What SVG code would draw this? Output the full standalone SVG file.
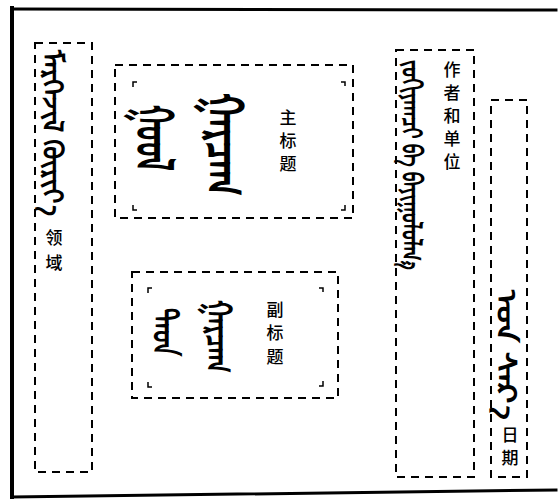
<svg xmlns="http://www.w3.org/2000/svg" width="558" height="503" viewBox="0 0 558 503">
<style>
.frame{fill:none;stroke:#000;stroke-linecap:square}
.box{fill:none;stroke:#000;stroke-width:2;stroke-dasharray:8 6}
.mark{fill:none;stroke:#000;stroke-width:1.5}
.zh{font-family:"Noto Sans CJK SC","Noto Sans",sans-serif;font-size:17px;fill:#000;text-anchor:middle;font-weight:500}
.mn{font-family:"Noto Sans Mongolian","Noto Sans","DejaVu Sans",sans-serif;fill:#000;font-weight:bold}
</style>
<rect width="558" height="503" fill="#fff"/>
<g id="frame">
<line class="frame" x1="12" y1="8" x2="12" y2="497" stroke-width="4"/>
<line class="frame" x1="12" y1="9" x2="556" y2="10" stroke-width="3"/>
<line class="frame" x1="12" y1="497" x2="556" y2="490" stroke-width="3"/>
</g>
<g id="field">
<rect class="box" x="35" y="43" width="57" height="429"/>
<text class="mn" font-size="28" transform="translate(43,50) rotate(90)" textLength="166" lengthAdjust="spacingAndGlyphs">ᠮᠡᠷᠭᠡᠵᠢᠯ ᠬᠦᠷᠢᠶ᠎ᠡ</text>
<text class="zh" x="54" y="244">领</text>
<text class="zh" x="54" y="269">域</text>
</g>
<g id="main-title">
<rect class="box" x="115" y="65" width="238" height="153"/>
<path class="mark" d="M133,87 V82 H137 M341,82 H345 V86 M133,205 V210 H137 M341,210 H345 V205"/>
<text class="mn" font-size="52" transform="translate(136,105) rotate(90)" textLength="66" lengthAdjust="spacingAndGlyphs">ᠭᠣᠣᠯ</text>
<text class="mn" font-size="52" transform="translate(206,93) rotate(90)" textLength="103" lengthAdjust="spacingAndGlyphs">ᠭᠠᠷᠴᠠᠭ</text>
<text class="zh" x="288" y="124">主</text>
<text class="zh" x="288" y="147">标</text>
<text class="zh" x="288" y="170">题</text>
</g>
<g id="subtitle">
<rect class="box" x="132" y="272" width="206" height="126"/>
<path class="mark" d="M148,293 V288 H152 M319,288 H323 V292 M148,382 V387 H152 M319,386 H323 V381"/>
<text class="mn" font-size="34" transform="translate(153,308) rotate(90)" textLength="48" lengthAdjust="spacingAndGlyphs">ᠳᠡᠳ</text>
<text class="mn" font-size="36" transform="translate(206,300) rotate(90)" textLength="73" lengthAdjust="spacingAndGlyphs">ᠭᠠᠷᠴᠠᠭ</text>
<text class="zh" x="275" y="316">副</text>
<text class="zh" x="275" y="339">标</text>
<text class="zh" x="275" y="363">题</text>
</g>
<g id="author-unit">
<rect class="box" x="396" y="50" width="78" height="427"/>
<text class="mn" font-size="28" transform="translate(402,60) rotate(90)" textLength="210" lengthAdjust="spacingAndGlyphs">ᠵᠣᠬᠢᠶᠠᠭᠴᠢ ᠪᠠ ᠪᠠᠶᠢᠭᠤᠯᠤᠯᠭ᠎ᠠ</text>
<text class="zh" x="452" y="76">作</text>
<text class="zh" x="452" y="99">者</text>
<text class="zh" x="452" y="122">和</text>
<text class="zh" x="452" y="145">单</text>
<text class="zh" x="452" y="168">位</text>
</g>
<g id="date">
<rect class="box" x="491" y="100" width="36" height="377"/>
<text class="mn" font-size="27" transform="translate(497,290) rotate(90)" textLength="130" lengthAdjust="spacingAndGlyphs">ᠣᠨ ᠰᠠᠷ᠎ᠠ</text>
<text class="zh" x="510" y="441">日</text>
<text class="zh" x="510" y="464">期</text>
</g>
<g id="connectors"></g>
</svg>
